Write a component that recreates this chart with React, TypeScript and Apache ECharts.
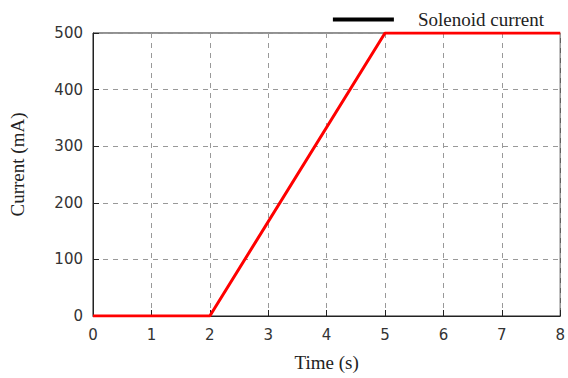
import React, { useEffect, useRef } from "react";
import * as echarts from "echarts";

const seriesName = "Solenoid current";
const timeValues = [0, 2, 5, 8];
const currentValues = [0, 0, 500, 500];

export default function App() {
  const ref = useRef<HTMLDivElement>(null);
  useEffect(() => {
    if (!ref.current) return;
    const chart = echarts.init(ref.current, undefined, { renderer: "svg" });
    const data = timeValues.map((t, i) => [t, currentValues[i]]);
    chart.setOption({
      animation: false,
      backgroundColor: "#ffffff",
      grid: {
        left: 92,
        right: 6,
        top: 33,
        bottom: 62,
        show: true,
        borderColor: "#222",
        borderWidth: 1,
        backgroundColor: "transparent",
      },
      legend: {
        right: 19,
        top: 5,
        icon: "rect",
        itemWidth: 61,
        itemHeight: 4,
        itemGap: 10,
        textStyle: {
          fontFamily: "Liberation Serif",
          fontSize: 19,
          color: "#222",
          padding: [0, 0, 0, 19],
        },
        data: [
          {
            name: seriesName,
            itemStyle: { color: "#000" },
          },
        ],
      },
      xAxis: {
        type: "value",
        min: 0,
        max: 8,
        interval: 1,
        name: "Time (s)",
        nameLocation: "middle",
        nameGap: 37,
        nameTextStyle: { fontFamily: "Liberation Serif", fontSize: 19, color: "#222" },
        axisLine: { show: true, lineStyle: { color: "#222", width: 1 } },
        axisTick: { show: true, inside: true, length: 6, lineStyle: { color: "#222" } },
        axisLabel: { fontFamily: "DejaVu Sans", fontSize: 15, color: "#333", margin: 11 },
        splitLine: { show: true, lineStyle: { color: "#999", type: [5, 5], width: 1 } },
      },
      yAxis: {
        type: "value",
        min: 0,
        max: 500,
        interval: 100,
        name: "Current (mA)",
        nameLocation: "middle",
        nameGap: 66,
        nameTextStyle: {
          fontFamily: "Liberation Serif",
          fontSize: 19,
          color: "#222",
          padding: [0, 0, 0, 20],
        },
        axisLine: { show: true, lineStyle: { color: "#222", width: 1 } },
        axisTick: { show: true, inside: true, length: 6, lineStyle: { color: "#222" } },
        axisLabel: { fontFamily: "DejaVu Sans", fontSize: 15, color: "#333", margin: 10 },
        splitLine: { show: true, lineStyle: { color: "#999", type: [5, 5], width: 1 } },
      },
      series: [
        {
          name: seriesName,
          type: "line",
          data,
          showSymbol: false,
          symbol: "none",
          clip: true,
          lineStyle: { color: "#ff0000", width: 3 },
          itemStyle: { color: "#ff0000" },
        },
      ],
    });
    return () => chart.dispose();
  }, []);
  return (
    <div
      ref={ref}
      style={{ position: "fixed", left: 0, top: 0, width: 568, height: 378 }}
    />
  );
}
